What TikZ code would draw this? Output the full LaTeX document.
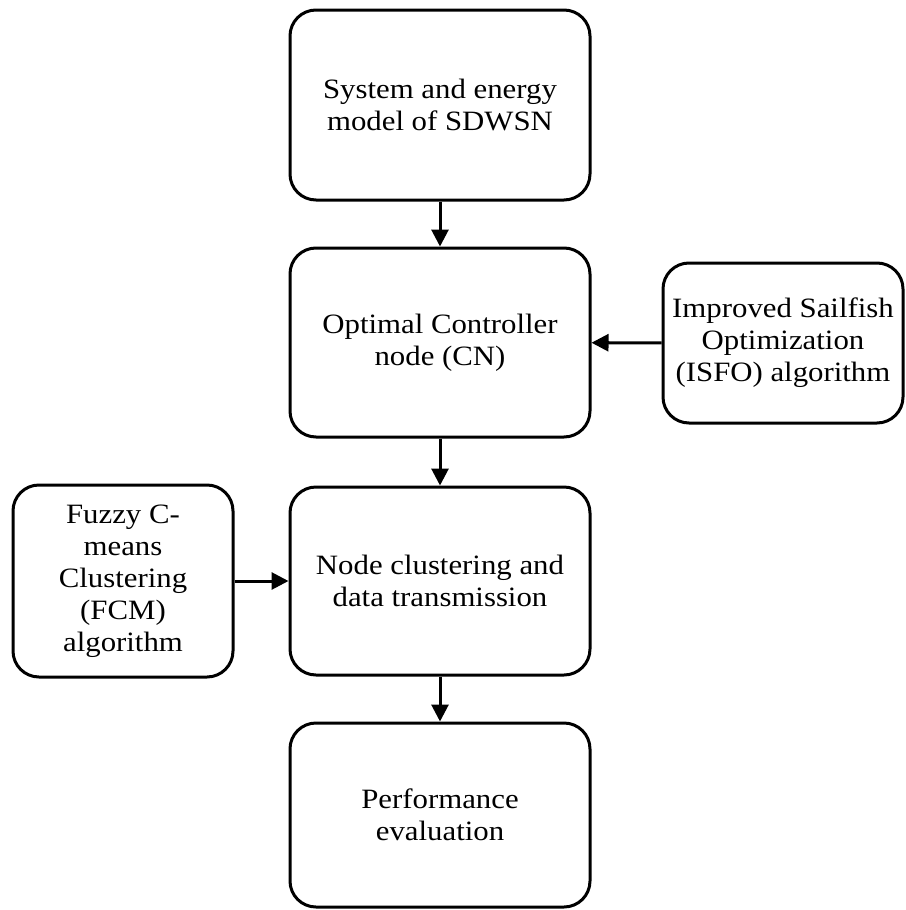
\documentclass[tikz,border=0pt]{standalone}
\usepackage{fontspec}
\setmainfont[FakeStretch=1.1]{Liberation Serif}
\usetikzlibrary{arrows.meta}
\begin{document}
\begin{tikzpicture}[x=1pt,y=-1pt,
  box/.style={draw=black, line width=3pt, rounded corners=26pt, align=center,
    font=\fontsize{28}{32}\selectfont, inner sep=0pt},
  mainbox/.style={box, minimum width=300pt},
  conn/.style={line width=3pt, -{Triangle[length=17pt,width=17pt]}}]
\useasboundingbox (0,0) rectangle (905,910);
\fill[white] (0,0) rectangle (905,910);
\node[mainbox, minimum height=190pt] (sys) at (440,105) {System and energy\\model of SDWSN};
\node[mainbox, minimum height=189pt] (ocn) at (440,342.5) {Optimal Controller\\node (CN)};
\node[mainbox, minimum height=188pt] (ncl) at (440,581) {Node clustering and\\data transmission};
\node[mainbox, minimum height=184pt] (per) at (440,815) {Performance\\evaluation};
\node[box, minimum width=240pt, minimum height=160pt] (isfo) at (783,343) {Improved Sailfish\\Optimization\\(ISFO) algorithm};
\node[box, minimum width=220pt, minimum height=192pt] (fcm) at (123,581) {Fuzzy C-\\means\\Clustering\\(FCM)\\algorithm};
\draw[conn] (sys) -- (ocn);
\draw[conn] (ocn) -- (ncl);
\draw[conn] (ncl) -- (per);
\draw[conn] (isfo) -- (ocn);
\draw[conn] (fcm) -- (ncl);
\end{tikzpicture}
\end{document}
